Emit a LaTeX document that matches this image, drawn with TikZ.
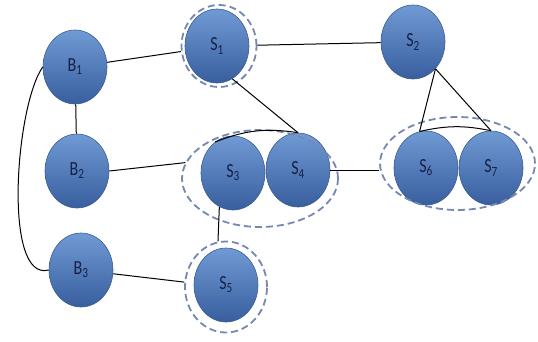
\documentclass[tikz,border=0pt]{standalone}
\usepackage{fontspec}
\usepackage{graphicx}
\setmainfont{Carlito}
\usetikzlibrary{shapes.geometric}

\definecolor{ballTop}{RGB}{112,154,212}
\definecolor{ballMid}{RGB}{84,126,190}
\definecolor{ballBottom}{RGB}{56,94,158}
\definecolor{ballEdge}{RGB}{60,92,148}
\definecolor{textColor}{RGB}{22,32,72}
\definecolor{ringColor}{RGB}{118,136,176}

\newcommand{\lbl}[2]{\scalebox{0.8}[1]{#1\textsubscript{#2}}}

\tikzset{
  ball/.style={ellipse,minimum width=64pt,minimum height=74pt,inner sep=0pt,
    top color=ballTop,middle color=ballMid,bottom color=ballBottom,
    draw=ballEdge,line width=0.6pt,text=textColor,
    font=\fontsize{20}{24}\selectfont},
  ring/.style={ellipse,draw=ringColor,line width=1.8pt,
    dash pattern=on 7pt off 4pt,inner sep=0pt},
  link/.style={draw=black,line width=1pt,line join=round}
}

\begin{document}
\begin{tikzpicture}[x=1pt,y=1pt]
\definecolor{fillColor}{RGB}{255,255,255}
\path[use as bounding box,fill=fillColor] (0,0) rectangle (538,341);

\node[ball] (b1) at ( 75,274) {\lbl{B}{1}};
\node[ball] (b2) at ( 77,170) {\lbl{B}{2}};
\node[ball] (b3) at ( 81, 71) {\lbl{B}{3}};
\node[ball] (s1) at (217,295) {\lbl{S}{1}};
\node[ball] (s2) at (413,299) {\lbl{S}{2}};
\node[ball] (s3) at (233,168) {\lbl{S}{3}};
\node[ball] (s4) at (298,171) {\lbl{S}{4}};
\node[ball] (s5) at (226, 56) {\lbl{S}{5}};
\node[ball] (s6) at (426,173) {\lbl{S}{6}};
\node[ball] (s7) at (491,173) {\lbl{S}{7}};

\node[ring,minimum width= 75pt,minimum height=82pt] (r1)  at (219,295) {};
\node[ring,minimum width= 82pt,minimum height=91pt] (r5)  at (226, 54) {};
\node[ring,minimum width=156pt,minimum height=97pt] (g34) at (260,162.5) {};
\node[ring,minimum width=155pt,minimum height=93pt] (g67) at (457.5,177.5) {};

\path[link] (b1) -- (r1);
\path[link] (r1) -- (s2);
\path[link] (s1.-65) -- (s4.north);
\path[link] (s3.120) to[bend left=15] (s4.north);
\path[link] (b1) -- (b2);
\path[link] (b1.west) to[out=235,in=195,looseness=0.6] (b3.west);
\path[link] (b2.east) -- (g34.168);
\path[link] (s3.-112) -- (r5.100);
\path[link] (b3) -- (r5);
\path[link] (s4.east) -- (s4.east -| g67.west);
\path[link] (s2.-50) -- (s6.100);
\path[link] (s2.-50) -- (s7.north);
\path[link] (s6.100) to[bend left=12] (s7.north);
\end{tikzpicture}
\end{document}
